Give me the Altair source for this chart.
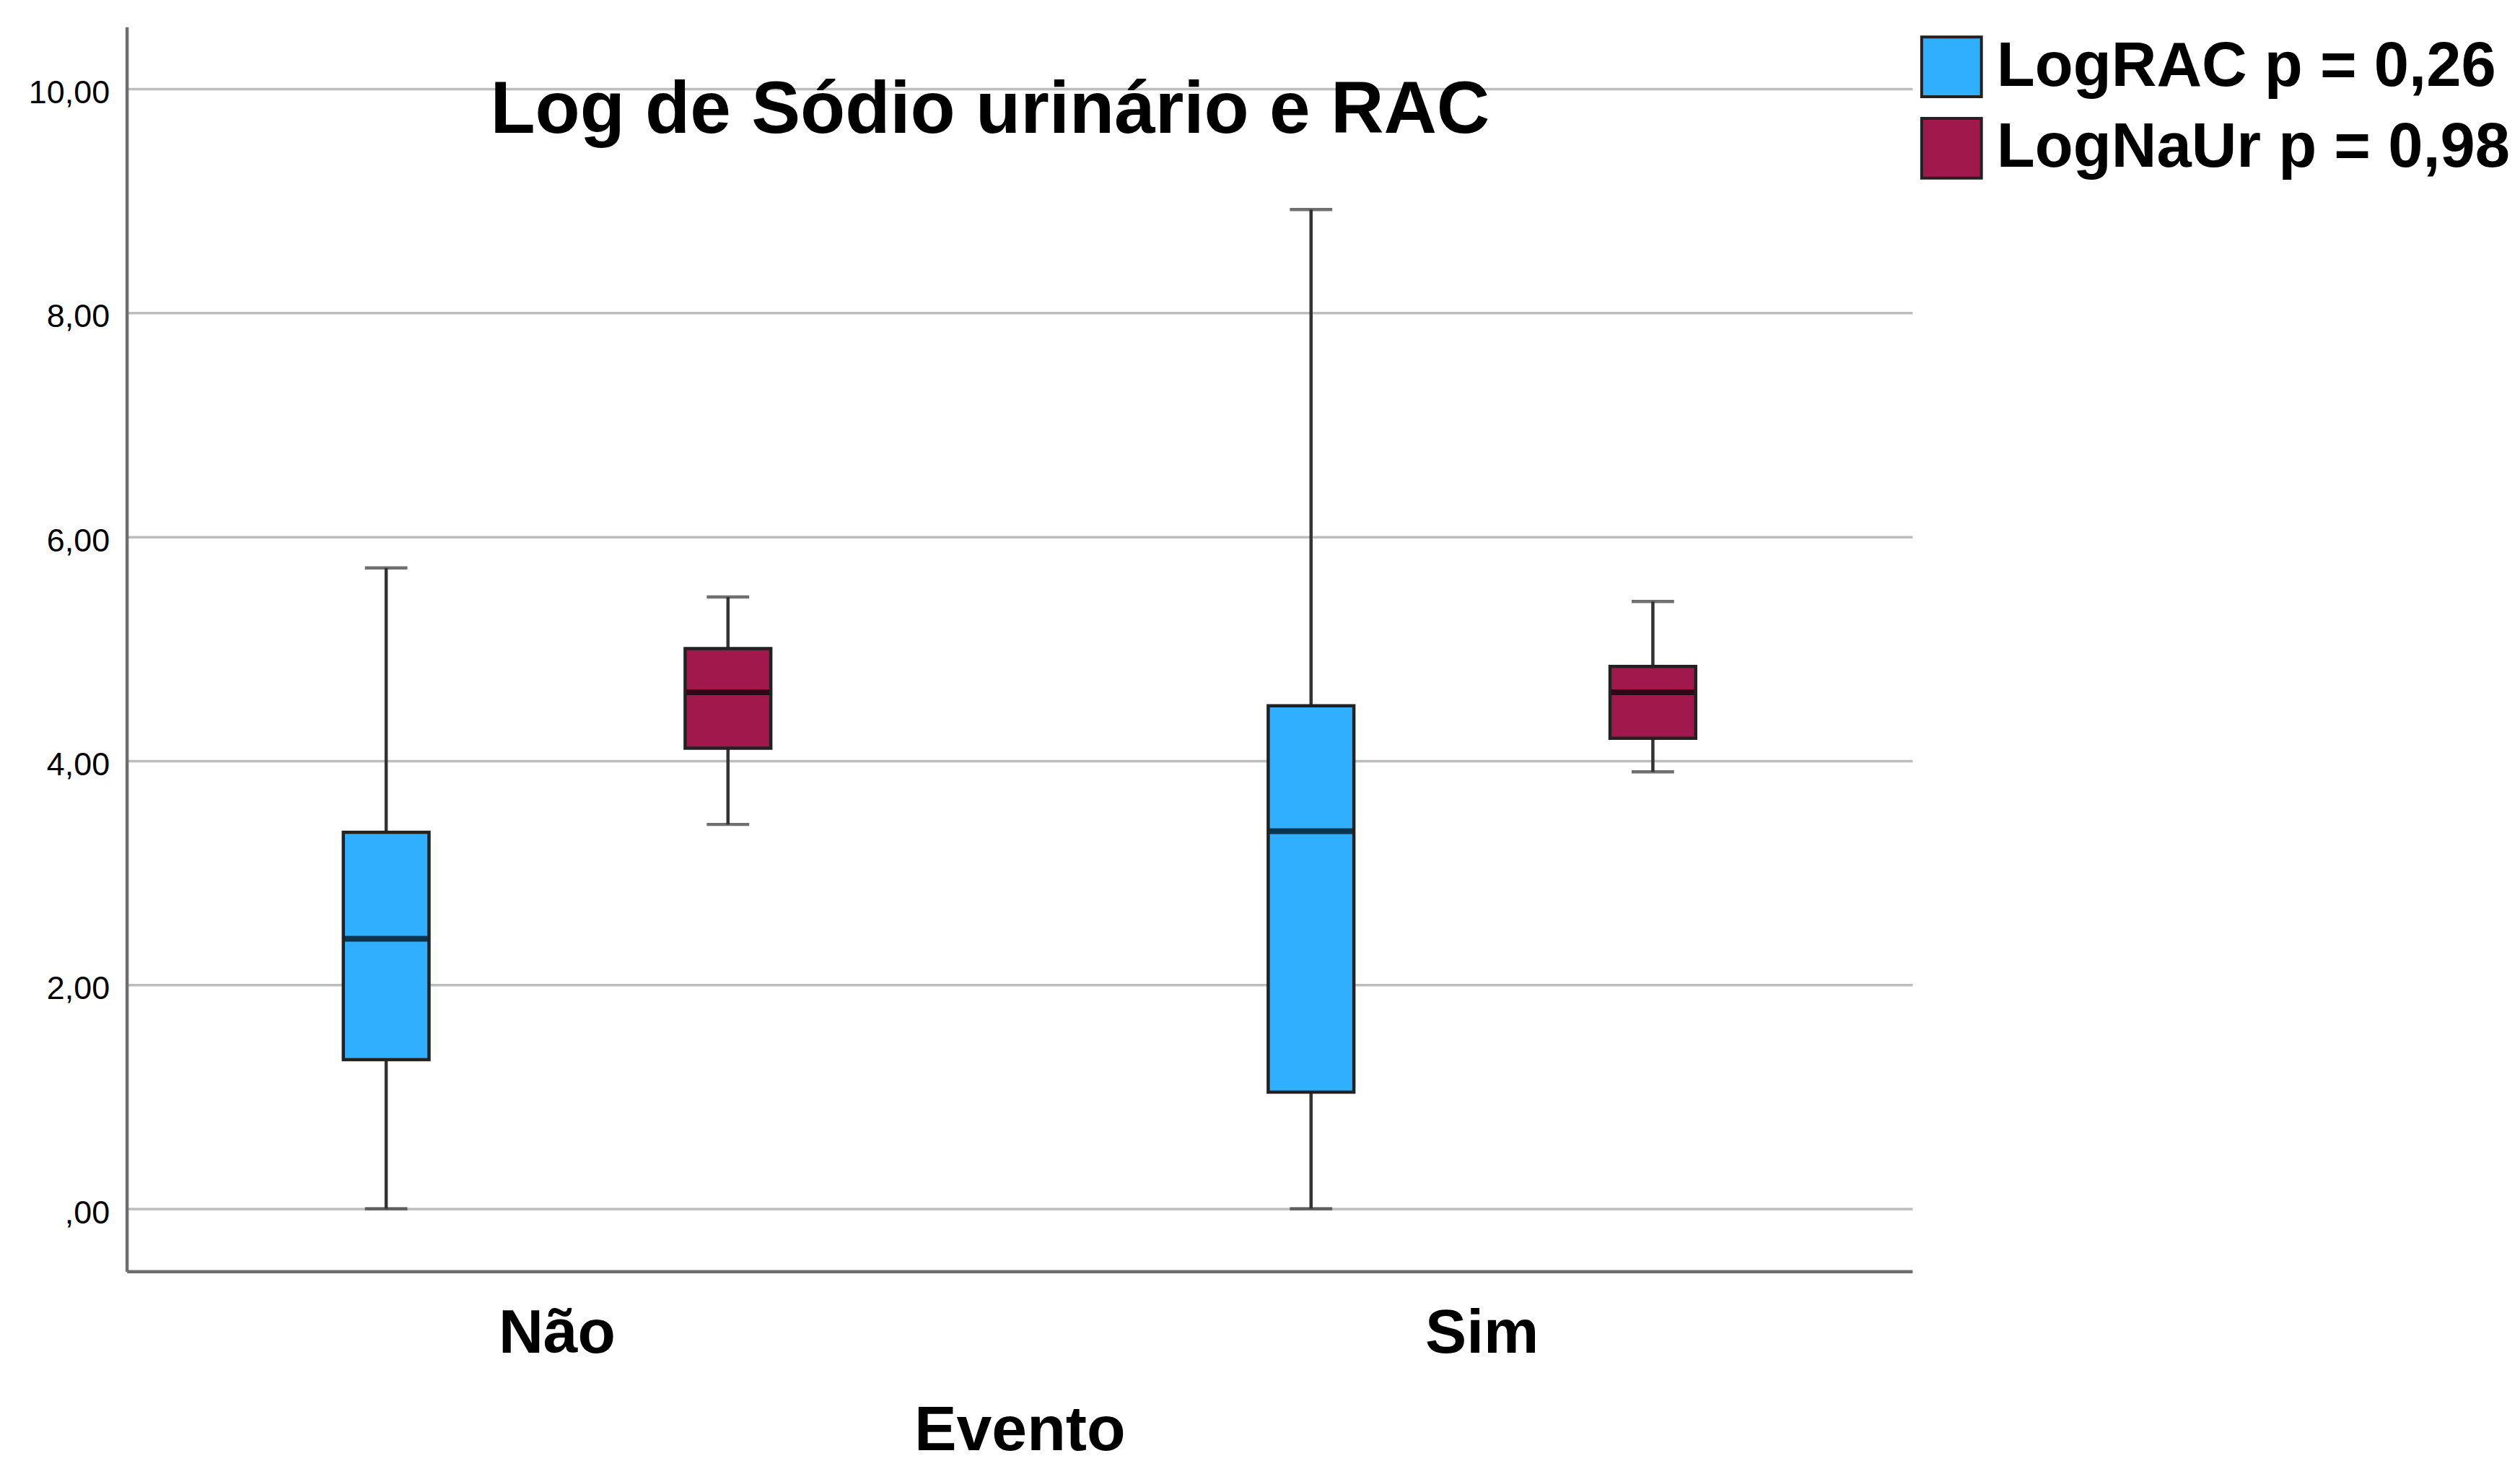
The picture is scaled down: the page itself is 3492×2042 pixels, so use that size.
import altair as alt
import pandas as pd

# ---- data ----
eventos = ["Não", "Sim"]
series = ["LogRAC", "LogNaUr"]
p_values = ["0,26", "0,98"]
colors = ["#31AFFF", "#A1184D"]
chart_title = "Log de Sódio urinário e RAC"

# values per Evento, in the order of `series`
whisker_low = {"Não": [0.00, 3.43], "Sim": [0.00, 3.90]}
q1 = {"Não": [1.33, 4.11], "Sim": [1.04, 4.20]}
median = {"Não": [2.41, 4.61], "Sim": [3.37, 4.61]}
q3 = {"Não": [3.36, 5.00], "Sim": [4.49, 4.84]}
whisker_high = {"Não": [5.72, 5.46], "Sim": [8.92, 5.42]}

y_ticks = [0, 2, 4, 6, 8, 10]

legend_labels = [f"{s} p = {p}" for s, p in zip(series, p_values)]

rows = []
for ev in eventos:
    for i, lab in enumerate(legend_labels):
        rows.append({
            "Evento": ev,
            "Serie": lab,
            "low": whisker_low[ev][i],
            "q1": q1[ev][i],
            "med": median[ev][i],
            "q3": q3[ev][i],
            "high": whisker_high[ev][i],
        })
df = pd.DataFrame(rows)

FONT = "Liberation Sans"

x_enc = alt.X(
    "Evento:N",
    sort=eventos,
    scale=alt.Scale(domain=eventos, paddingInner=0.0694, paddingOuter=0),
    axis=alt.Axis(
        labelFont=FONT, labelFontSize=86, labelFontWeight="bold", labelColor="black",
        labelAngle=0, labelBaseline="alphabetic", labelPadding=112,
        ticks=False, tickSize=0, domainColor="#6e6e6e", domainWidth=4.5, grid=False,
        titleFont=FONT, titleFontSize=88, titleFontWeight="bold", titleColor="black",
        titleBaseline="alphabetic", titleY=248,
    ),
    title="Evento",
)
xoff_enc = alt.XOffset(
    "Serie:N",
    sort=legend_labels,
    scale=alt.Scale(domain=legend_labels, paddingInner=0, paddingOuter=0.259),
)
y_scale = alt.Scale(domain=[-0.56, 10.55], nice=False, zero=False)
y_axis = alt.Axis(
    values=y_ticks,
    labelExpr="datum.value == 0 ? ',00' : replace(format(datum.value, '.2f'), '.', ',')",
    labelFont=FONT, labelFontSize=45, labelColor="black", labelPadding=24, labelOffset=6,
    ticks=False, tickSize=0, domainColor="#6e6e6e", domainWidth=4.5,
    grid=True, gridColor="#bdbdbd", gridWidth=3.5,
)


def y_of(field):
    return alt.Y(field, scale=y_scale, axis=y_axis, title=None)


base = alt.Chart(df).encode(x=x_enc, xOffset=xoff_enc)

whisker = base.mark_rule(color="#333333", strokeWidth=4.5).encode(
    y=y_of("low:Q"),
    y2="high:Q",
)

boxes = base.mark_bar(size=119, stroke="#222222", strokeWidth=4.5).encode(
    y=y_of("q1:Q"),
    y2="q3:Q",
    fill=alt.Fill(
        "Serie:N",
        sort=legend_labels,
        scale=alt.Scale(domain=legend_labels, range=colors),
        legend=alt.Legend(
            title=None, orient="none", legendX=2491, legendY=12,
            symbolType="square", symbolSize=6889,
            symbolStrokeColor="#222222", symbolStrokeWidth=4,
            labelFont=FONT, labelFontSize=87, labelFontWeight="bold", labelColor="black",
            labelOffset=19, rowPadding=14, padding=0, labelLimit=2000,
        ),
    ),
)

med_tick = base.mark_tick(color="black", thickness=8, size=115).encode(
    y=y_of("med:Q"),
)

cap_low = base.mark_tick(color="#333333", thickness=4.5, size=59).encode(
    y=y_of("low:Q"),
)
cap_high = base.mark_tick(color="#333333", thickness=4.5, size=59).encode(
    y=y_of("high:Q"),
)

title_mark = alt.Chart(pd.DataFrame({"t": [chart_title]})).mark_text(
    font=FONT, fontSize=102, fontWeight="bold", color="black",
    align="center", baseline="alphabetic",
).encode(text="t:N", x=alt.value(1199), y=alt.value(147))

chart = alt.layer(whisker, boxes, med_tick, cap_low, cap_high, title_mark).properties(
    width=2480,
    height=1728,
    autosize=alt.AutoSizeParams(type="none"),
    padding={"left": 168, "top": 27, "right": 836, "bottom": 267},
    background="white",
).configure_view(stroke="transparent")

chart.save("out.html", embed_options={"renderer": "svg", "actions": False})
